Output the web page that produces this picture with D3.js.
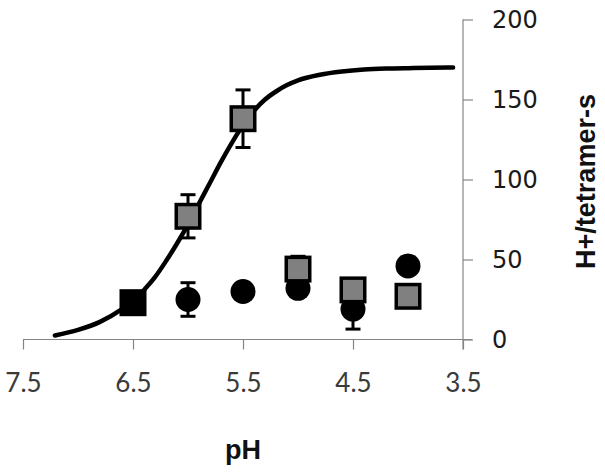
<!DOCTYPE html>
<html>
<head>
<meta charset="utf-8">
<script src="https://cdn.jsdelivr.net/npm/d3@7"></script>
<style>
  html, body { margin: 0; padding: 0; background: #fff; }
  svg { display: block; }
</style>
</head>
<body>
<svg id="chart" width="605" height="474"></svg>
<script>
// ---- data ----
const xTicks = [7.5, 6.5, 5.5, 4.5, 3.5];
const yTicks = [0, 50, 100, 150, 200];

// grey squares
const squarePH  = [6.0, 5.5, 5.0, 4.5, 4.0];
const squareVal = [77, 138, 44, 31, 27];
const squareErr = [13.5, 18, 8, 0, 0];

// black square (at pH 6.5)
const blackSquarePH  = [6.5];
const blackSquareVal = [23];

// black circles
const circlePH  = [6.0, 5.5, 5.0, 4.5, 4.0];
const circleVal = [25, 30, 32, 19, 46];
const circleErr = [10.5, 0, 0, 12.5, 0];

// fitted curve, points
const curvePH  = [7.21, 7.0, 6.8, 6.6, 6.5, 6.4, 6.3, 6.2, 6.1, 6.0, 5.9, 5.8, 5.7, 5.6, 5.5, 5.4, 5.3, 5.2, 5.1, 5.0, 4.8, 4.6, 4.4, 4.2, 4.0, 3.8, 3.59];
const curveVal = [2.5, 6, 11, 19, 24, 31, 39, 49, 60, 72, 85, 98, 111, 123, 134, 143, 150, 155, 159, 162, 165.5, 167.5, 168.7, 169.3, 169.6, 169.8, 170];

// ---- drawing ----
const svg = d3.select("#chart");
const x = d3.scaleLinear().domain([7.5, 3.5]).range([23, 463]);
const y = d3.scaleLinear().domain([0, 200]).range([339.5, 19.5]);

const axisColor = "#858585";

// x axis
const gx = svg.append("g").attr("transform", `translate(0,${y(0)})`)
  .call(d3.axisBottom(x).tickValues(xTicks).tickSize(10).tickSizeOuter(0)
        .tickPadding(28).tickFormat(d3.format(".1f")));
gx.select(".domain").remove();
gx.selectAll(".tick line").attr("stroke", axisColor).attr("stroke-width", 1.2);
gx.selectAll(".tick text").attr("font-family", "Lato, 'Open Sans', sans-serif")
  .attr("font-size", 26).attr("fill", "#3a3a3a").attr("dy", "0.55em");
gx.append("line").attr("x1", x(7.5)).attr("x2", x(3.5) + 9).attr("y1", 0).attr("y2", 0)
  .attr("stroke", axisColor).attr("stroke-width", 1.2);

// y axis (right side, at pH 3.5)
const gy = svg.append("g").attr("transform", `translate(${x(3.5)},0)`)
  .call(d3.axisRight(y).tickValues(yTicks).tickSize(10).tickSizeOuter(0).tickPadding(19));
gy.select(".domain").remove();
gy.selectAll(".tick line").attr("stroke", axisColor).attr("stroke-width", 1.2);
gy.selectAll(".tick text").attr("font-family", "'DejaVu Sans', sans-serif")
  .attr("font-size", 24).attr("fill", "#1a1a1a");
gy.append("line").attr("x1", 0).attr("x2", 0).attr("y1", y(200)).attr("y2", y(0) + 10)
  .attr("stroke", axisColor).attr("stroke-width", 1.2);

// axis titles
svg.append("text").attr("x", x(5.5)).attr("y", 459)
  .attr("text-anchor", "middle").attr("font-family", "'Liberation Sans', Arial, sans-serif")
  .attr("font-weight", "bold").attr("font-size", 27).attr("fill", "#111").text("pH");
svg.append("text").attr("transform", `translate(595,${y(100) + 2}) rotate(-90)`)
  .attr("text-anchor", "middle").attr("font-family", "'Liberation Sans', Arial, sans-serif")
  .attr("font-weight", "bold").attr("font-size", 27).attr("fill", "#111").text("H+/tetramer-s");

// curve
const curveData = curvePH.map((p, i) => ({ pH: p, v: curveVal[i] }));
svg.append("path").datum(curveData)
  .attr("d", d3.line().x(d => x(d.pH)).y(d => y(d.v)).curve(d3.curveMonotoneX))
  .attr("fill", "none").attr("stroke", "#000").attr("stroke-width", 4.5)
  .attr("stroke-linecap", "round");

function errorBars(data) {
  const g = svg.append("g").attr("stroke", "#000").attr("stroke-width", 3);
  const withErr = data.filter(d => d.e > 0);
  g.selectAll("line.v").data(withErr).join("line").attr("class", "v")
    .attr("x1", d => x(d.pH)).attr("x2", d => x(d.pH))
    .attr("y1", d => y(d.v + d.e)).attr("y2", d => y(d.v - d.e));
  g.selectAll("line.t").data(withErr).join("line").attr("class", "t")
    .attr("x1", d => x(d.pH) - 7.5).attr("x2", d => x(d.pH) + 7.5)
    .attr("y1", d => y(d.v + d.e)).attr("y2", d => y(d.v + d.e));
  g.selectAll("line.b").data(withErr).join("line").attr("class", "b")
    .attr("x1", d => x(d.pH) - 7.5).attr("x2", d => x(d.pH) + 7.5)
    .attr("y1", d => y(d.v - d.e)).attr("y2", d => y(d.v - d.e));
}

// circles
const circleData = circlePH.map((p, i) => ({ pH: p, v: circleVal[i], e: circleErr[i] }));
errorBars(circleData);
svg.append("g").selectAll("circle").data(circleData).join("circle")
  .attr("cx", d => x(d.pH)).attr("cy", d => y(d.v)).attr("r", 12.5).attr("fill", "#000");

// grey squares
const squareData = squarePH.map((p, i) => ({ pH: p, v: squareVal[i], e: squareErr[i] }));
errorBars(squareData);
const side = 23.5;
svg.append("g").selectAll("rect").data(squareData).join("rect")
  .attr("x", d => x(d.pH) - side / 2).attr("y", d => y(d.v) - side / 2)
  .attr("width", side).attr("height", side)
  .attr("fill", "#808080").attr("stroke", "#000").attr("stroke-width", 3.5);

// black square
const blackData = blackSquarePH.map((p, i) => ({ pH: p, v: blackSquareVal[i] }));
svg.append("g").selectAll("rect").data(blackData).join("rect")
  .attr("x", d => x(d.pH) - side / 2).attr("y", d => y(d.v) - side / 2)
  .attr("width", side).attr("height", side)
  .attr("fill", "#000").attr("stroke", "#000").attr("stroke-width", 3.5);
</script>
</body>
</html>
